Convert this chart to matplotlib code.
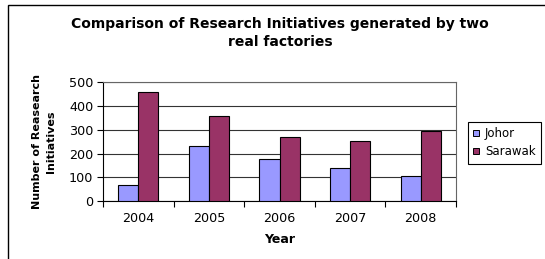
import matplotlib
matplotlib.use('Agg')

import numpy as np
import matplotlib.pyplot as plt
from matplotlib.patches import Rectangle
from matplotlib.lines import Line2D

# data
years = ['2004', '2005', '2006', '2007', '2008']
johor = [67, 230, 177, 140, 104]
sarawak = [460, 360, 271, 254, 296]
yticks = [0, 100, 200, 300, 400, 500]

W, H = 545, 259
fig = plt.figure(figsize=(W / 100, H / 100), dpi=100)

# outer chart frame (runs past right and bottom edge)
fig.add_artist(Rectangle((7.7 / W, -0.1), 1.2, 1 - 4.7 / H + 0.1,
                         transform=fig.transFigure, fill=False,
                         edgecolor='black', linewidth=1.0))

# plot area
left, right, top, bottom = 103, 456, 82.3, 201
ax = fig.add_axes([left / W, 1 - bottom / H, (right - left) / W, (bottom - top) / H])

x = np.arange(len(years))
w = 0.286
ax.bar(x - w / 2, johor, w, color='#9999FF', edgecolor='black', linewidth=0.8, label='Johor', zorder=3)
ax.bar(x + w / 2, sarawak, w, color='#993366', edgecolor='black', linewidth=0.8, label='Sarawak', zorder=3)

ax.set_xlim(-0.5, len(years) - 0.5)
ax.set_ylim(0, 500)
ax.set_yticks(yticks)
ax.yaxis.grid(True, color='#333333', linewidth=0.8, zorder=1)

# category labels between boundary ticks
ax.set_xticks(np.arange(-0.5, len(years), 1.0))
ax.set_xticklabels([])
ax.set_xticks(x, minor=True)
ax.set_xticklabels(years, minor=True, fontsize=9.2)
ax.tick_params(axis='x', which='minor', length=0, pad=8)
ax.tick_params(axis='x', which='major', length=4, width=0.8, direction='out')
ax.tick_params(axis='y', length=4, width=0.8, labelsize=9.2, pad=3)

for s in ['top', 'right']:
    ax.spines[s].set_color('#666666')
    ax.spines[s].set_linewidth(0.8)
for s in ['left', 'bottom']:
    ax.spines[s].set_color('black')
    ax.spines[s].set_linewidth(0.8)

ax.set_xlabel('Year', fontsize=9, fontweight='bold', labelpad=6)
ax.set_ylabel('Number of Reasearch\nInitiatives', fontsize=8, fontweight='bold',
              labelpad=9, linespacing=1.6)

fig.text(280 / W, 1 - 33 / H, 'Comparison of Research Initiatives generated by two\nreal factories',
         ha='center', va='center', fontsize=10, fontweight='bold', linespacing=1.45)

# legend box
handles = [Line2D([], [], marker='s', linestyle='none', markersize=5,
                  markerfacecolor='#9999FF', markeredgecolor='black', markeredgewidth=0.7),
           Line2D([], [], marker='s', linestyle='none', markersize=5,
                  markerfacecolor='#993366', markeredgecolor='black', markeredgewidth=0.7)]
leg = fig.legend(handles, ['Johor', 'Sarawak'], loc='upper left',
                 bbox_to_anchor=(467.7 / W, 1 - 121.7 / H), fontsize=8.5,
                 frameon=True, fancybox=False, edgecolor='black', framealpha=1,
                 handlelength=0.5, handletextpad=0.5, borderpad=0.45,
                 labelspacing=0.45, borderaxespad=0)
leg.get_frame().set_linewidth(0.8)

fig.savefig('out.png', dpi=100)
